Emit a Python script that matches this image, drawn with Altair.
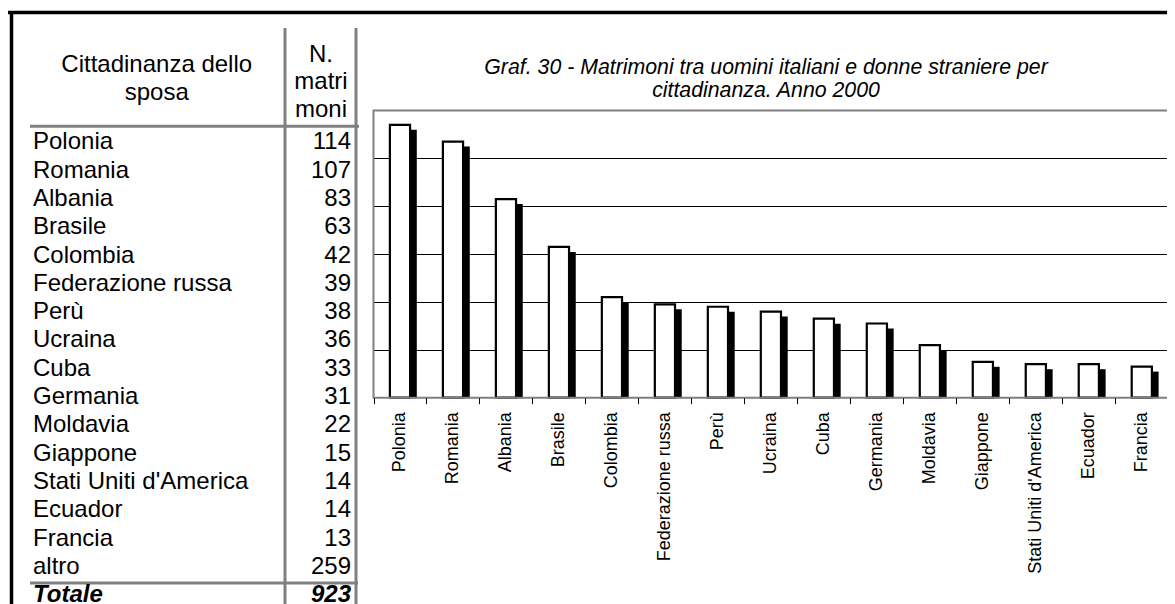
import altair as alt
import pandas as pd

# ---------------- data ----------------
countries = ["Polonia", "Romania", "Albania", "Brasile", "Colombia",
             "Federazione russa", "Perù", "Ucraina", "Cuba", "Germania",
             "Moldavia", "Giappone", "Stati Uniti d'America", "Ecuador", "Francia"]
marriages = [114, 107, 83, 63, 42, 39, 38, 36, 33, 31, 22, 15, 14, 14, 13]
other_label = "altro"
other_value = 259
total_label = "Totale"
total_value = 923
grid_ticks = [20, 40, 60, 80, 100]
y_domain = [0, 120]

title_lines = ["Graf. 30 - Matrimoni tra uomini italiani e donne straniere per",
               "cittadinanza. Anno 2000"]
head_name = ["Cittadinanza dello", "sposa"]
head_value = ["N.", "matri", "moni"]

# ---------------- layout ----------------
FONT = "Liberation Sans"
W, H = 1159, 596
PX0, PX1 = 365.5, 1160.3      # plot area left / right
PY0, PY1 = 389.7, 102.5       # baseline / top
TX_NAME, TX_NUM = 25, 343     # table column anchors
TY0, TY1 = 141.3, 594.1       # first / last table baseline
GRAY = "#808080"
SHADOW_DX, SHADOW_DY = 5.6, 5

one = alt.Data(values=[{}])

def hrule(x0, x1, y, color, w):
    return alt.Chart(one).mark_rule(color=color, strokeWidth=w).encode(
        x=alt.value(x0), x2=alt.value(x1), y=alt.value(y))

def vrule(x, y0, y1, color, w):
    return alt.Chart(one).mark_rule(color=color, strokeWidth=w).encode(
        x=alt.value(x), y=alt.value(y0), y2=alt.value(y1))

lines = [
    vrule(277, 20, H, GRAY, 3),
    vrule(348, 20, H, GRAY, 3),
    hrule(22, 351, 118.3, GRAY, 3),
    hrule(22, 350, 575, GRAY, 3),
    hrule(0, W, 4.5, "black", 3.5),
    vrule(3.5, 3, H, "black", 3.5),
]

# ---------------- table ----------------
row_labels = countries + [other_label, total_label]
row_values = marriages + [other_value, total_value]
long_rows = []
for lab, val in zip(row_labels, row_values):
    long_rows.append({"row": lab, "col": "name", "text": lab})
    long_rows.append({"row": lab, "col": "num", "text": str(val)})
table_df = pd.DataFrame(long_rows)

tbase = alt.Chart(table_df).encode(
    x=alt.X("col:N", scale=alt.Scale(type="point", domain=["name", "num"],
                                      range=[TX_NAME, TX_NUM], padding=0), axis=None),
    y=alt.Y("row:N", scale=alt.Scale(type="point", domain=row_labels,
                                      range=[TY0, TY1], padding=0), axis=None),
    text="text:N",
)
tstyle = dict(font=FONT, fontSize=24, color="black", baseline="alphabetic")
not_total = f"datum.row != '{total_label}'"
is_total = f"datum.row == '{total_label}'"
table = alt.layer(
    tbase.transform_filter(f"datum.col == 'name' && {not_total}").mark_text(align="left", **tstyle),
    tbase.transform_filter(f"datum.col == 'num' && {not_total}").mark_text(align="right", **tstyle),
    tbase.transform_filter(f"datum.col == 'name' && {is_total}").mark_text(
        align="left", fontWeight="bold", fontStyle="italic", **tstyle),
    tbase.transform_filter(f"datum.col == 'num' && {is_total}").mark_text(
        align="right", fontWeight="bold", fontStyle="italic", **tstyle),
)

headers = alt.layer(
    alt.Chart(one).mark_text(font=FONT, fontSize=24, color="black", align="center",
                             baseline="alphabetic", lineHeight=28.3).encode(
        x=alt.value(148.7), y=alt.value(63.7), text=alt.value(head_name)),
    alt.Chart(one).mark_text(font=FONT, fontSize=24, color="black", align="center",
                             baseline="alphabetic", lineHeight=27.8).encode(
        x=alt.value(313), y=alt.value(53.7), text=alt.value(head_value)),
)

# ---------------- bar chart ----------------
bars_df = pd.DataFrame({"country": countries, "value": marriages})
xscale = alt.Scale(type="band", domain=countries, range=[PX0, PX1],
                   paddingInner=0, paddingOuter=0)
yscale = alt.Scale(domain=y_domain, range=[PY0, PY1], nice=False, zero=True)

shadow = alt.Chart(bars_df).mark_bar(
    color="black", width=alt.RelativeBandSize(0.4226), xOffset=SHADOW_DX, yOffset=SHADOW_DY
).encode(
    x=alt.X("country:N", sort=countries, scale=xscale),
    y=alt.Y("value:Q", scale=yscale),
)
# white strip hiding the part of the shadows that falls below the baseline
cover = alt.Chart(one).mark_rect(color="white").encode(
    x=alt.value(PX0), x2=alt.value(PX1 + 8), y=alt.value(PY0 + 0.5), y2=alt.value(PY0 + SHADOW_DY + 2))

bars = alt.Chart(bars_df).mark_bar(
    fill="white", stroke="black", strokeWidth=2.2, width=alt.RelativeBandSize(0.381)
).encode(
    x=alt.X("country:N", sort=countries, scale=xscale,
            axis=alt.Axis(title=None, orient="bottom", offset=PY0 - H, labelAngle=270,
                          labelFont=FONT, labelFontSize=18, labelColor="black",
                          labelPadding=8, labelLimit=400, tickBand="extent",
                          tickColor="black", tickSize=6, tickWidth=1,
                          domain=False, grid=False, zindex=2)),
    y=alt.Y("value:Q", scale=yscale,
            axis=alt.Axis(title=None, orient="left", offset=-PX0, labels=False,
                          ticks=False, domain=False, grid=True, values=grid_ticks,
                          gridColor="black", gridWidth=1)),
    tooltip=["country:N", "value:Q"],
)
bar_layer = alt.layer(shadow, cover, bars)

plot_frame = alt.Chart(one).mark_rect(fillOpacity=0, stroke=GRAY, strokeWidth=2).encode(
    x=alt.value(PX0), x2=alt.value(PX1), y=alt.value(PY1), y2=alt.value(PY0))

title = alt.Chart(one).mark_text(
    font=FONT, fontSize=21.3, fontStyle="italic", color="black", align="center",
    baseline="alphabetic", lineHeight=23
).encode(x=alt.value(758), y=alt.value(65.5), text=alt.value(title_lines))

chart = alt.layer(
    *lines, table, headers, bar_layer, plot_frame, title
).resolve_scale(x="independent", y="independent").properties(
    width=W, height=H, padding=0, autosize=alt.AutoSizeParams(type="none")
).configure_view(stroke=None)

chart.save("out.html", embed_options={"renderer": "svg", "actions": False})
